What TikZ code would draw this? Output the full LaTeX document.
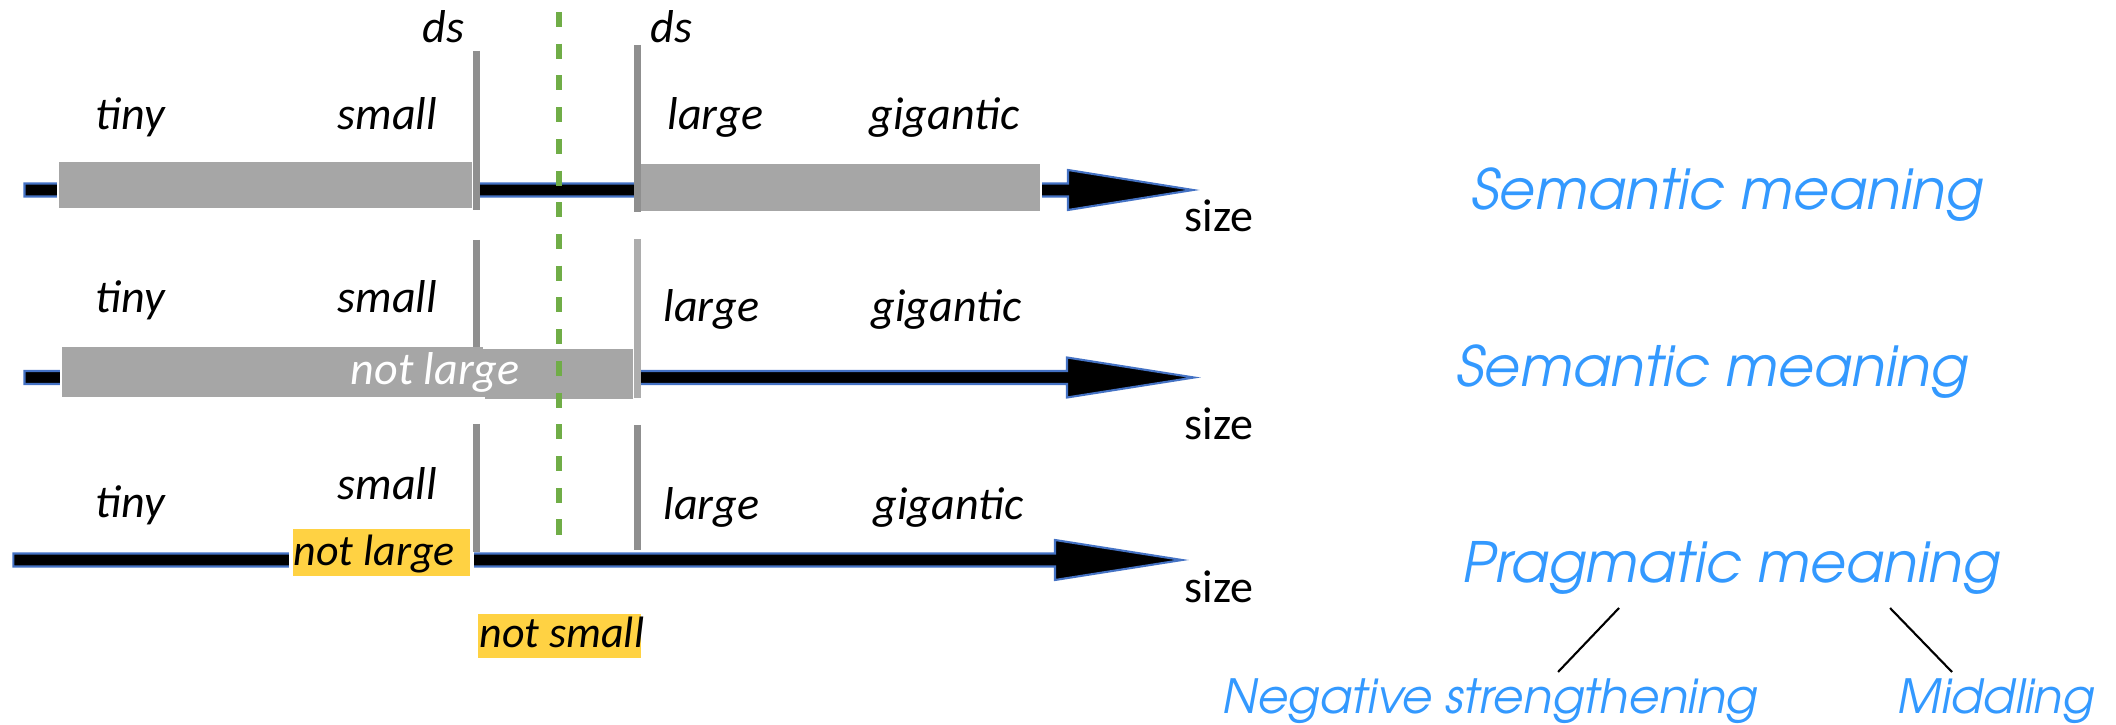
\documentclass[tikz,border=0pt]{standalone}
\usepackage{fontspec}
\setmainfont{Carlito}
\IfFontExistsTF{texgyreadventor-italic.otf}
  {\newfontfamily\bluefont{texgyreadventor}[Extension=.otf, UprightFont=*-italic, ItalicFont=*-italic]}
  {\newfontfamily\bluefont{Poppins}}
\definecolor{barg}{HTML}{A6A6A6}
\definecolor{tickg}{HTML}{8F8F8F}
\definecolor{tickl}{HTML}{ADADAD}
\definecolor{dgreen}{HTML}{70AD47}
\definecolor{ayel}{HTML}{FFD243}
\definecolor{ablue}{HTML}{4472C4}
\definecolor{tblue}{HTML}{3399FF}
\begin{document}
\begin{tikzpicture}[x=0.01cm,y=-0.01cm,
  lbl/.style={inner sep=0pt, anchor=base west, font=\fontsize{13.1}{15}\selectfont\itshape},
  hilbl/.style={inner sep=0pt, anchor=base west, font=\fontsize{12.5}{15}\selectfont\itshape},
  szlbl/.style={inner sep=0pt, anchor=base west, font=\fontsize{13.1}{15}\selectfont},
  bigblue/.style={inner sep=0pt, anchor=base, text=tblue, font=\bluefont\fontsize{15.8}{18}\selectfont\itshape},
  smallblue/.style={inner sep=0pt, anchor=base, text=tblue, font=\bluefont\fontsize{13.4}{16}\selectfont\itshape},
  grayblock/.style={fill=barg, draw=white, line width=0.8pt},
  tickline/.style={draw=tickg, line width=2pt},
  ticklight/.style={draw=tickl, line width=2pt},
  axisarrow/.style={fill=black, draw=ablue, line width=0.6pt, line join=miter},
  yelblock/.style={fill=ayel, draw=white, line width=1.1pt},
  greendash/.style={draw=dgreen, line width=1.9pt, dash pattern=on 0.15cm off 0.167cm},
  treeline/.style={draw=black, line width=0.6pt}]
\useasboundingbox (0,0) rectangle (2116,725);

% ---- row 1 ----
\draw[axisarrow] (24.5,183.5) -- (1068,183.5) -- (1068,170) -- (1193,190) -- (1068,210) -- (1068,196.5) -- (24.5,196.5) -- cycle;
\draw[grayblock] (58,161) rectangle (473,209);
\draw[grayblock] (639,163) rectangle (1041,212);
\draw[tickline] (476.5,51) -- (476.5,210);
\draw[tickline] (637.5,45) -- (637.5,212);
\node[lbl] (ds1) at (422,43) {ds};
\node[lbl] (ds2) at (650,43) {ds};
\node[lbl] (tiny1) at (95,130) {tiny};
\node[lbl] (small1) at (337,130) {small};
\node[lbl] (large1) at (667,130) {large};
\node[lbl] (gig1) at (869,130) {gigantic};
\node[szlbl] (size1) at (1184,232) {size};
\node[bigblue] (sem1) at (1727,210) {Semantic meaning};

% ---- row 2 ----
\draw[axisarrow] (24.5,371) -- (1067,371) -- (1067,357.5) -- (1194,377.5) -- (1067,397.5) -- (1067,384) -- (24.5,384) -- cycle;
\draw[grayblock] (61,346) rectangle (484,398);
\draw[grayblock] (484,348) rectangle (634,400);
\fill[barg] (470,349) rectangle (490,397);
\draw[tickline] (476.5,240) -- (476.5,347);
\draw[ticklight] (637.5,239) -- (637.5,398);
\node[lbl, text=white] (notlarge2) at (350,385) {not large};
\node[lbl] (tiny2) at (95,313) {tiny};
\node[lbl] (small2) at (337,313) {small};
\node[lbl] (large2) at (663,322) {large};
\node[lbl] (gig2) at (871,322) {gigantic};
\node[szlbl] (size2) at (1184,440) {size};
\node[bigblue] (sem2) at (1712,387) {Semantic meaning};

% ---- row 3 ----
\draw[axisarrow] (13.4,553.5) -- (1055,553.5) -- (1055,540) -- (1182,560) -- (1055,580) -- (1055,566.5) -- (13.4,566.5) -- cycle;
\draw[yelblock] (291,527) rectangle (472,578);
\draw[yelblock] (476,612) rectangle (643,660);
\draw[tickline] (476.5,424) -- (476.5,552);
\draw[tickline] (637.5,425) -- (637.5,550);
\node[hilbl] (notlarge3) at (293,565) {not large};
\node[hilbl] (notsmall3) at (479,647) {not small};
\node[lbl] (tiny3) at (95,518) {tiny};
\node[lbl] (small3) at (337,500) {small};
\node[lbl] (large3) at (663,520) {large};
\node[lbl] (gig3) at (873,520) {gigantic};
\node[szlbl] (size3) at (1184,603) {size};
\node[bigblue] (prag) at (1731,583) {Pragmatic meaning};
\node[smallblue] (neg) at (1490,713) {Negative strengthening};
\node[smallblue] (mid) at (1996,713) {Middling};
\coordinate (pl) at (1619,608);
\coordinate (nl) at (1558,672);
\coordinate (pr) at (1890,608);
\coordinate (mr) at (1952,672);
\draw[treeline] (pl) -- (nl);
\draw[treeline] (pr) -- (mr);

% ---- green dashed threshold ----
\coordinate (gtop) at (559,12);
\coordinate (gbot) at (559,547);
\draw[greendash] (gtop) -- (gbot);
\end{tikzpicture}
\end{document}
